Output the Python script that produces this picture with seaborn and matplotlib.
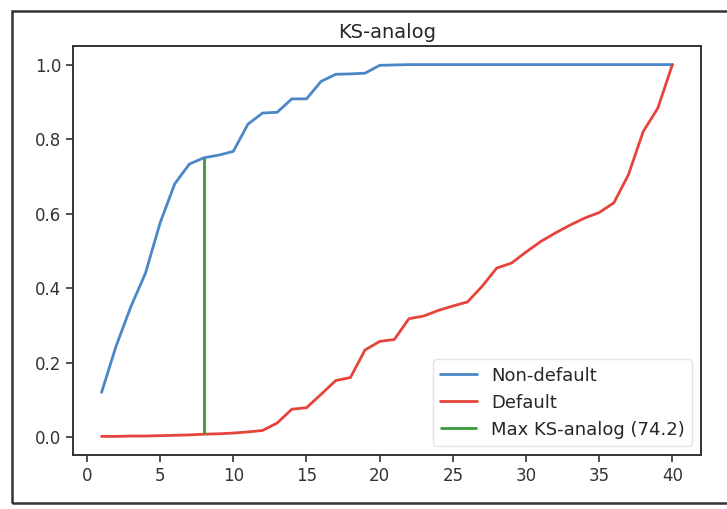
"""
KS-analog chart: cumulative share of non-default vs default by score bucket
"""
import numpy as np
import pandas as pd
import matplotlib
matplotlib.use("Agg")
import matplotlib.pyplot as plt
from matplotlib.patches import Rectangle
import seaborn as sns

# score buckets 1..40
buckets = list(range(1, 41))

non_default = [0.12, 0.245, 0.35, 0.44, 0.575, 0.68, 0.733, 0.75, 0.757, 0.767,
               0.84, 0.87, 0.872, 0.908, 0.908, 0.955, 0.974, 0.975, 0.977, 0.998,
               0.999, 1.0, 1.0, 1.0, 1.0, 1.0, 1.0, 1.0, 1.0, 1.0,
               1.0, 1.0, 1.0, 1.0, 1.0, 1.0, 1.0, 1.0, 1.0, 1.0]

default = [0.002, 0.002, 0.003, 0.003, 0.004, 0.005, 0.006, 0.008, 0.009, 0.011,
           0.014, 0.018, 0.038, 0.075, 0.079, 0.115, 0.152, 0.16, 0.234, 0.257,
           0.262, 0.318, 0.325, 0.34, 0.352, 0.363, 0.405, 0.454, 0.467, 0.497,
           0.525, 0.548, 0.569, 0.588, 0.603, 0.629, 0.705, 0.82, 0.883, 1.0]

series_names = ["Non-default", "Default"]
ks_bucket = 8
ks_label = "Max KS-analog (74.2)"
title = "KS-analog"

colors = {"Non-default": "#4b86c6", "Default": "#e5443a"}
ks_color = "#3a9a3a"

sns.set_style("ticks")
plt.rcParams["font.family"] = ["DejaVu Sans"]

df = pd.DataFrame({
    "bucket": buckets * 2,
    "share": non_default + default,
    "group": [series_names[0]] * len(buckets) + [series_names[1]] * len(buckets),
})

fig = plt.figure(figsize=(7.27, 5.09), dpi=100)
ax = fig.add_axes([0.1004, 0.1061, 0.8638, 0.8035])

sns.lineplot(data=df, x="bucket", y="share", hue="group", hue_order=series_names,
             palette=colors, linewidth=2, ax=ax)

i = buckets.index(ks_bucket)
ax.vlines(ks_bucket, default[i], non_default[i], color=ks_color, linewidth=2,
          label=ks_label)

ax.set_xlabel("")
ax.set_ylabel("")
ax.set_title(title, fontsize=14, color="#262626")
ax.set_xticks([0, 5, 10, 15, 20, 25, 30, 35, 40])
ax.set_yticks([0.0, 0.2, 0.4, 0.6, 0.8, 1.0])
ax.set_yticklabels(["0.0", "0.2", "0.4", "0.6", "0.8", "1.0"])
ax.tick_params(labelsize=12, colors="#333333", length=5, width=1.2)
for s in ax.spines.values():
    s.set_visible(True)
    s.set_color("#333333")
    s.set_linewidth(1.4)

leg = ax.legend(loc="lower right", fontsize=13, frameon=True)
leg.get_frame().set_edgecolor("#dddddd")

# outer screenshot frame
fig.patches.append(Rectangle((12 / 727, 1 - 503 / 509), 1.2, (503 - 11) / 509,
                             transform=fig.transFigure, fill=False,
                             edgecolor="#333333", linewidth=1.8))

fig.savefig("out.png", dpi=100)
